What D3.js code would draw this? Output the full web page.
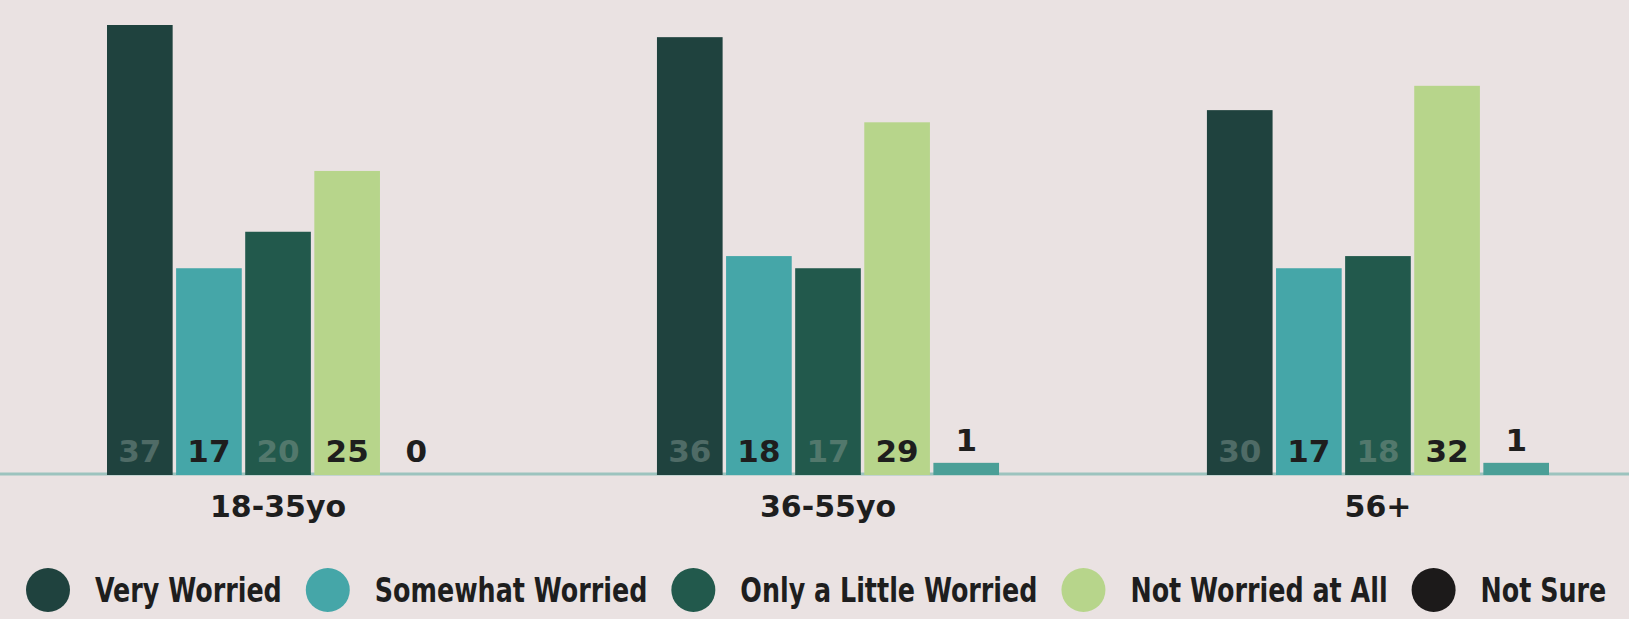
<!DOCTYPE html>
<html>
<head>
<meta charset="utf-8">
<script src="https://cdn.jsdelivr.net/npm/d3@7"></script>
<style>
  html, body { margin: 0; padding: 0; background: #eae2e2; }
  svg { display: block; }
</style>
</head>
<body>
<div id="chart"></div>
<script>
// data
let groups = ['18-35yo', '36-55yo', '56+']
let answers = ['Very Worried', 'Somewhat Worried', 'Only a Little Worried', 'Not Worried at All', 'Not Sure']
let veryWorried = [37, 36, 30]
let somewhatWorried = [17, 18, 17]
let littleWorried = [20, 17, 18]
let notWorried = [25, 29, 32]
let notSure = [0, 1, 1]

let series = [veryWorried, somewhatWorried, littleWorried, notWorried, notSure]

let width = 1629
let height = 619

let svg = d3.select('#chart')
  .append('svg')
  .attr('width', width)
  .attr('height', height)

svg.append('rect')
  .attr('width', width)
  .attr('height', height)
  .attr('fill', '#eae2e2')

// scales
let x0 = d3.scaleBand()
  .domain(groups)
  .range([107, 1549])
  .paddingInner(0.378)

let x1 = d3.scaleBand()
  .domain(answers)
  .range([0, x0.bandwidth()])
  .paddingInner(0.05)

let y = d3.scaleLinear()
  .domain([0, 37])
  .range([475, 25])

let barColor = d3.scaleOrdinal()
  .domain(answers)
  .range(['#1f423e', '#45a6a8', '#22594c', '#b7d58b', '#4b9f97'])

let dotColor = d3.scaleOrdinal()
  .domain(answers)
  .range(['#1f423e', '#45a6a8', '#22594c', '#b7d58b', '#1c1a1a'])

// labels on the dark bars are printed in a muted grey
let labelColor = d3.scaleOrdinal()
  .domain(answers)
  .range(['#4f6b66', '#1e1e1e', '#52786c', '#1e1e1e', '#1e1e1e'])

let rows = []
groups.forEach((g, i) => {
  answers.forEach((a, j) => {
    rows.push({ group: g, answer: a, value: series[j][i] })
  })
})

// baseline
svg.append('line')
  .attr('x1', 0)
  .attr('x2', width)
  .attr('y1', y(0) - 1)
  .attr('y2', y(0) - 1)
  .attr('stroke', '#9cc3be')
  .attr('stroke-width', 3)

let bars = svg.append('g')
  .selectAll('g')
  .data(rows)
  .enter()
  .append('g')
  .attr('transform', d => `translate(${x0(d.group) + x1(d.answer)},0)`)

bars.append('rect')
  .attr('x', 0)
  .attr('y', d => y(d.value))
  .attr('width', x1.bandwidth())
  .attr('height', d => y(0) - y(d.value))
  .attr('fill', d => barColor(d.answer))

// value sits inside the foot of the bar, or just above a bar too short to hold it
bars.append('text')
  .attr('x', x1.bandwidth() / 2)
  .attr('y', d => (y(d.value) < y(0) - 40 ? y(0) - 13 : Math.min(y(0) - 13, y(d.value) - 12)))
  .attr('text-anchor', 'middle')
  .attr('font-family', 'DejaVu Sans, sans-serif')
  .attr('font-weight', 'bold')
  .attr('font-size', 31)
  .attr('fill', d => (d.value < 2 ? '#1e1e1e' : labelColor(d.answer)))
  .text(d => d.value)

// group names under the axis
svg.append('g')
  .selectAll('text')
  .data(groups)
  .enter()
  .append('text')
  .attr('x', d => x0(d) + x0.bandwidth() / 2)
  .attr('y', 517)
  .attr('text-anchor', 'middle')
  .attr('font-family', 'DejaVu Sans, sans-serif')
  .attr('font-weight', 'bold')
  .attr('font-size', 30)
  .attr('fill', '#1e1e1e')
  .text(d => d)

// legend, laid out by measured text widths; the print type is condensed
let squeeze = 0.83
let legend = svg.append('g')
let cx = 48
answers.forEach(a => {
  legend.append('circle')
    .attr('cx', cx)
    .attr('cy', 590)
    .attr('r', 22)
    .attr('fill', dotColor(a))
  let tx = cx + 47
  let t = legend.append('text')
    .attr('transform', `translate(${tx},602) scale(${squeeze},1)`)
    .attr('font-family', "'DejaVu Sans Condensed', 'DejaVu Sans', sans-serif")
    .attr('font-weight', 'bold')
    .attr('font-size', 34)
    .attr('fill', '#1e1e1e')
    .text(a)
  cx = tx + t.node().getComputedTextLength() * squeeze + 46
})
</script>
</body>
</html>
